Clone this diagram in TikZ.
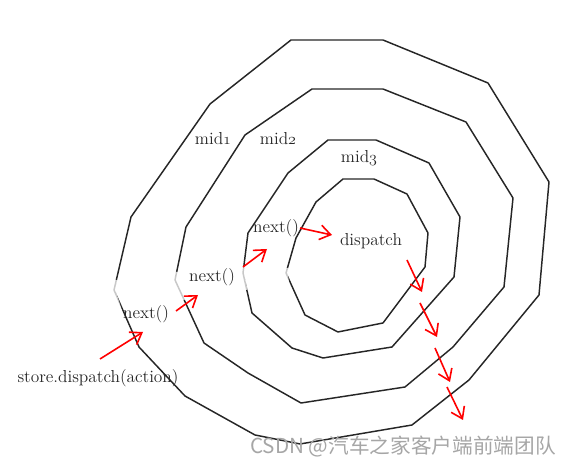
\documentclass[tikz,border=0pt]{standalone}
\usepackage{fontspec}
\newfontfamily\cjkfont{Noto Sans CJK SC}
\usetikzlibrary{arrows.meta,positioning}

\tikzset{
  ring/.style={draw=black!85, line width=1.1pt, line join=round},
  fade/.style={draw=white, opacity=0.75, line width=2.2pt},
  word/.style={inner sep=1pt, text=black!85, font=\fontsize{13}{13}\selectfont},
  redarrow/.style={draw=red, line width=1.2pt, -{Straight Barb[length=8pt,width=11pt]}},
}

\begin{document}
\begin{tikzpicture}[x=0.75pt,y=-0.75pt]
  \def\mid#1{mid{\usefont{OML}{cmm}{m}{it}#1}}
  \useasboundingbox (0,0) rectangle (565,466);
  \coordinate (picture bottom right) at (556,447);

  % Ring mid1
  \draw[ring] (291,40) -- (383,40) -- (488,83) -- (549,182) -- (539,295) -- (469,380)
    -- (412,425) -- (300,444) -- (255,435) -- (185,396) -- (139,347) -- (114,290)
    -- (131,217) -- (210,104) -- cycle;
  % Ring mid2
  \draw[ring] (312,89) -- (383,89) -- (466,122) -- (513,198) -- (504,287) -- (453,347)
    -- (405,387) -- (301,403) -- (248,373) -- (204,343) -- (175,280) -- (186,227)
    -- (245,135) -- cycle;
  % Ring mid3
  \draw[ring] (328,140) -- (376,140) -- (429,163) -- (460,217) -- (454,277) -- (392,347)
    -- (323,358) -- (292,348) -- (252,313) -- (243,273) -- (248,233) -- (288,173) -- cycle;
  % Core
  \draw[ring] (343,179) -- (374,179) -- (407,194) -- (428,233) -- (425,267) -- (383,323)
    -- (338,332) -- (305,315) -- (286,273) -- (296,238) -- (316,202) -- cycle;
  % Faded strokes by the labels
  \draw[fade] (116,280) -- (114,290) -- (124,322);
  \draw[fade] (177,272) -- (175,280) -- (184,300);
  \draw[fade] (244,266) -- (243,273) -- (246,290);
  \draw[fade] (287,268) -- (286,273) -- (289,290);

  % Layer names
  \node[word] (mid one) at (213,139) {\mid{1}};
  \node[word] (mid two) at (278,139) {\mid{2}};
  \node[word] (mid three) at (359,158) {\mid{3}};

  % Calls
  \node[word] (store) at (98,378) {store.dispatch(action)};
  \node[word] (next one) at (146,314) {next()};
  \node[word] (next two) at (212,277) {next()};
  \node[word] (next three) at (276,228) {next()};
  \node[word] (dispatch) at (371,241) {dispatch};

  % Arrows in
  \coordinate (in a) at (100,359);  \coordinate (in b) at (143,332);
  \coordinate (in c) at (176,311);  \coordinate (in d) at (198,295);
  \coordinate (in e) at (243,267);  \coordinate (in f) at (267,249);
  \coordinate (in g) at (300,228);  \coordinate (in h) at (332,235);
  \draw[redarrow] (in a) -- (in b);
  \draw[redarrow] (in c) -- (in d);
  \draw[redarrow] (in e) -- (in f);
  \draw[redarrow] (in g) -- (in h);

  % Arrows out
  \coordinate (out a) at (407,260);  \coordinate (out b) at (422,292);
  \coordinate (out c) at (420,303);  \coordinate (out d) at (437,337);
  \coordinate (out e) at (435,348);  \coordinate (out f) at (450,382);
  \coordinate (out g) at (447,387);  \coordinate (out h) at (463,420);
  \draw[redarrow] (out a) -- (out b);
  \draw[redarrow] (out c) -- (out d);
  \draw[redarrow] (out e) -- (out f);
  \draw[redarrow] (out g) -- (out h);

  % Watermark
  \node [left = 0pt of picture bottom right, inner sep=0pt, text=black!35,
    font=\cjkfont\fontsize{15.5}{15.5}\selectfont] (mark) {CSDN @汽车之家客户端前端团队};
\end{tikzpicture}
\end{document}
